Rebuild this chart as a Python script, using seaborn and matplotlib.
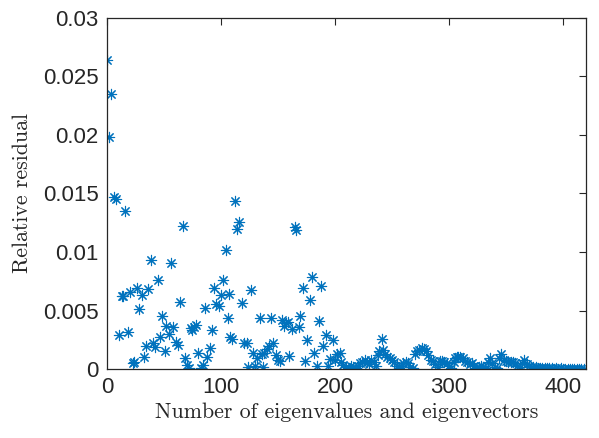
import numpy as np
import pandas as pd
import matplotlib
matplotlib.use("Agg")
import matplotlib.pyplot as plt
from matplotlib.ticker import MultipleLocator, FuncFormatter
import seaborn as sns

# number of eigenpairs (x) and relative residual (y)
# first part: 0..210
n_eig_a = [0, 2, 3.5, 6, 8, 10.5, 13, 14, 16, 18.4, 20, 23, 24, 26.6, 28.3, 30.7,
           32.5, 34, 36, 38.6, 40.6, 42, 44.5, 46.5, 48, 50.6, 52, 54.6, 56, 58,
           60.5, 62.5, 64, 66.4, 68.4, 70.4, 72.2, 74, 75, 76, 78, 80, 82.5, 84.5,
           86, 88, 90, 92, 94, 96, 98, 100, 102, 104, 106, 107, 108, 110, 112,
           114.3, 116, 118, 120, 122.5, 124, 126, 128, 130, 132, 134, 135.7, 137,
           138, 140.6, 142.4, 144, 146, 148, 150, 152, 153.8, 155.3, 156.8, 158.5,
           160, 162, 164.6, 166, 168, 169.6, 172, 173.7, 175.7, 178, 180, 182, 184,
           186, 188, 189.5, 192, 193.6, 196, 198, 200, 202, 204, 205, 207, 210]
residual_a = [0.0264, 0.0198, 0.0235, 0.0147, 0.0145, 0.0029, 0.0062, 0.0062,
              0.0135, 0.0032, 0.0066, 0.0005, 0.0006, 0.0069, 0.0051, 0.0063,
              0.00105, 0.0020, 0.0068, 0.0093, 0.00225, 0.0019, 0.0076, 0.0027,
              0.0045, 0.00155, 0.0037, 0.0030, 0.0091, 0.0036, 0.00235, 0.00205,
              0.0057, 0.01225, 0.0009, 0.00035, 0.0001, 0.0035, 0.0033, 0.0036,
              0.0038, 0.00135, 0.0001, 0.00035, 0.0052, 0.00105, 0.0018, 0.0033,
              0.0069, 0.00555, 0.0054, 0.0063, 0.0076, 0.0102, 0.00435, 0.0064,
              0.0027, 0.0026, 0.01435, 0.01195, 0.0126, 0.00565, 0.00225, 0.00225,
              0.0002, 0.00675, 0.0014, 0.0003, 0.0009, 0.00435, 0.0013, 0.00017,
              0.0014, 0.0017, 0.0020, 0.0044, 0.00225, 0.0012, 0.0008, 0.0007,
              0.00415, 0.0037, 0.00395, 0.00405, 0.00115, 0.0034, 0.0121, 0.0119,
              0.00355, 0.0045, 0.00695, 0.0007, 0.0025, 0.0059, 0.00785, 0.0014,
              0.0003, 0.0041, 0.0071, 0.0020, 0.0029, 0.00025, 0.00085, 0.00245,
              0.0008, 0.0013, 0.0014, 0.0006, 0.00035, 0.00015]

# second part: 212..418 (small residuals)
n_eig_b = [212, 214, 216, 218, 220, 222, 224, 226, 228, 230, 232, 234, 236, 238,
           239, 241, 242, 244, 246, 248, 250, 252, 254, 256, 258, 260, 262, 264,
           266, 268, 270, 272, 274, 276, 278, 280, 282, 284, 286, 288, 290, 292,
           294, 296, 298, 300, 302, 304, 305, 307, 308, 310, 312, 314, 316, 318,
           320, 322, 324, 326, 328, 330, 332, 334, 336, 338, 340, 342, 344, 346,
           348, 350, 352, 354, 356, 358, 360, 362, 364, 366, 368, 370, 372, 374,
           376, 378, 380, 382, 384, 386, 388, 390, 392, 394, 396, 398, 400, 402,
           404, 406, 408, 410, 412, 414, 416, 418]
residual_b = [0.0001, 0.0003, 0.0002, 0.0001, 0.0003, 0.0005, 0.0006, 0.0008,
              0.0006, 0.0004, 0.0008, 0.0006, 0.0003, 0.0012, 0.0015, 0.0026,
              0.0016, 0.0013, 0.0010, 0.0009, 0.0008, 0.0006, 0.0003, 0.0001,
              0.0003, 0.0005, 0.0006, 0.0005, 0.0002, 0.0001, 0.0013, 0.0015,
              0.0016, 0.0018, 0.0017, 0.0015, 0.0012, 0.0008, 0.0007, 0.0004,
              0.0002, 0.0007, 0.0007, 0.0006, 0.0005, 0.0003, 0.0001, 0.0006,
              0.0009, 0.0010, 0.00105, 0.0010, 0.0009, 0.0007, 0.0006, 0.0004,
              0.0005, 0.0003, 0.0001, 0.0002, 0.0003, 0.00015, 0.00005, 0.0006,
              0.0009, 0.0005, 0.0002, 0.00005, 0.0009, 0.00125, 0.0008, 0.0007,
              0.0006, 0.0006, 0.0006, 0.0005, 0.0003, 0.0002, 0.0005, 0.0008,
              0.0004, 0.0003, 0.0002, 0.00015, 0.0002, 0.0001, 0.00005, 0.0001,
              0.00005, 0.0001, 0.00005, 0.00008, 0.00004, 0.00006, 0.00003,
              0.00005, 0.00002, 0.00004, 0.00003, 0.00002, 0.00004, 0.00002,
              0.00003, 0.00002, 0.00003, 0.00001]

df = pd.DataFrame({"n": n_eig_a + n_eig_b, "res": residual_a + residual_b})

sns.set_style("white")
fig = plt.figure(figsize=(5.99, 4.38), dpi=100)
ax = fig.add_axes([0.1786, 0.1575, 0.7994, 0.8015])

sns.scatterplot(data=df, x="n", y="res", ax=ax, marker=(8, 2, 0), s=55,
                color="#0072BD", edgecolor="#0072BD", linewidth=0.8, legend=False)

ax.set_xlim(0, 420)
ax.set_ylim(0, 0.03)
ax.xaxis.set_major_locator(MultipleLocator(100))
ax.yaxis.set_major_locator(MultipleLocator(0.005))
ax.yaxis.set_major_formatter(FuncFormatter(lambda v, p: "%g" % round(v, 4)))

for s in ax.spines.values():
    s.set_color("#262626")
    s.set_linewidth(0.9)
ax.tick_params(which="major", direction="in", top=True, right=True,
               color="#262626", width=0.8, length=5, labelsize=16, pad=6)
for lab in ax.get_xticklabels() + ax.get_yticklabels():
    lab.set_fontfamily(["Liberation Sans", "DejaVu Sans"])
    lab.set_color("#262626")

ax.set_xlabel("Number of eigenvalues and eigenvectors", fontsize=15.8,
              fontfamily=["cmr10", "DejaVu Serif"], labelpad=3)
ax.set_ylabel("Relative residual", fontsize=15.8,
              fontfamily=["cmr10", "DejaVu Serif"], labelpad=8)

fig.savefig("out.png", dpi=100)
